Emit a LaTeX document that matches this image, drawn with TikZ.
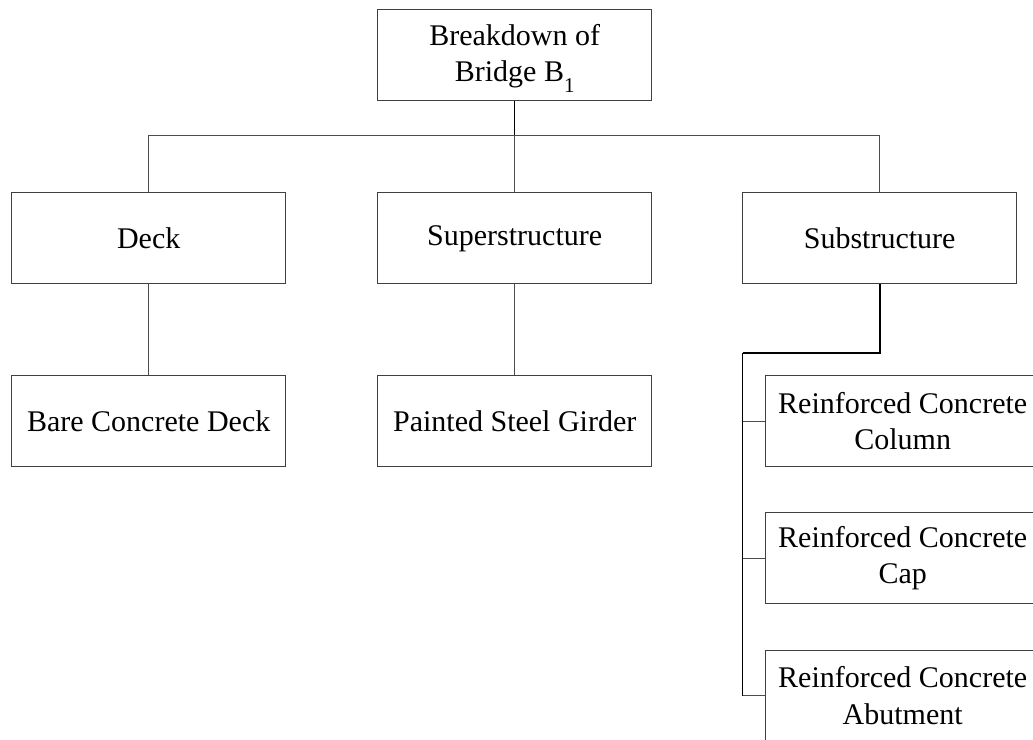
\documentclass[tikz,border=0pt]{standalone}
\usepackage{fontspec}
\setmainfont{Liberation Serif}
\begin{document}
\begin{tikzpicture}[x=1pt,y=-1pt,
  label font/.style={font=\fontsize{30}{36.5}\selectfont},
  box/.style={draw=black!75,line width=1pt,minimum width=274pt,minimum height=91pt,
    inner sep=0pt,align=center,label font},
  link/.style={draw=black!70,line width=1pt},
  trunk/.style={draw=black,line width=2pt},
  stem/.style={draw=black,line width=1.5pt}]
\clip (0,0) rectangle (1033,739);
\fill[white] (0,0) rectangle (1033,739);

% root box; its two-line text sits a little below centre
\node[box] (root) at (514.7,55) {};
\node[inner sep=0pt,align=center,label font] (roottext) at ([yshift=-3.5pt]root.center)
  {Breakdown of\\Bridge B\raisebox{-11pt}{\fontsize{21}{21}\selectfont 1}};

% first level
\node[box] (deck)  at (148.7,238.3) {Deck};
\node[box] (super) at (514.7,238.3) {Superstructure};
\node[box] (sub)   at (879.7,238.3) {Substructure};

% second level
\node[box] (bcd) at (148.7,421) {Bare Concrete Deck};
\node[box] (psg) at (514.7,421) {Painted Steel Girder};
\node[box] (rcc) at (902.7,421.2) {Reinforced Concrete\\Column};
\node[box] (rcp) at (902.7,558.3) {Reinforced Concrete\\Cap};
\node[box] (rca) at (902.7,695.5) {Reinforced Concrete\\Abutment};

% bus under the root
\coordinate (bus) at (0,135);
\draw[stem] (root.south) -- (root.south |- bus);
\draw[link] (deck.north) -- (deck.north |- bus) -| (sub.north);
\draw[link] (super.north) -- (super.north |- bus);

% first to second level
\draw[link] (deck.south) -- (bcd.north);
\draw[link] (super.south) -- (psg.north);

% substructure spine
\coordinate (spine) at (742.7,352.7);
\draw[trunk] (sub.south) |- (spine);
\draw[stem] (spine) -- (spine |- rca.west);
\draw[link] (spine |- rcc.west) -- (rcc.west);
\draw[link] (spine |- rcp.west) -- (rcp.west);
\draw[link] (spine |- rca.west) -- (rca.west);
\end{tikzpicture}
\end{document}
